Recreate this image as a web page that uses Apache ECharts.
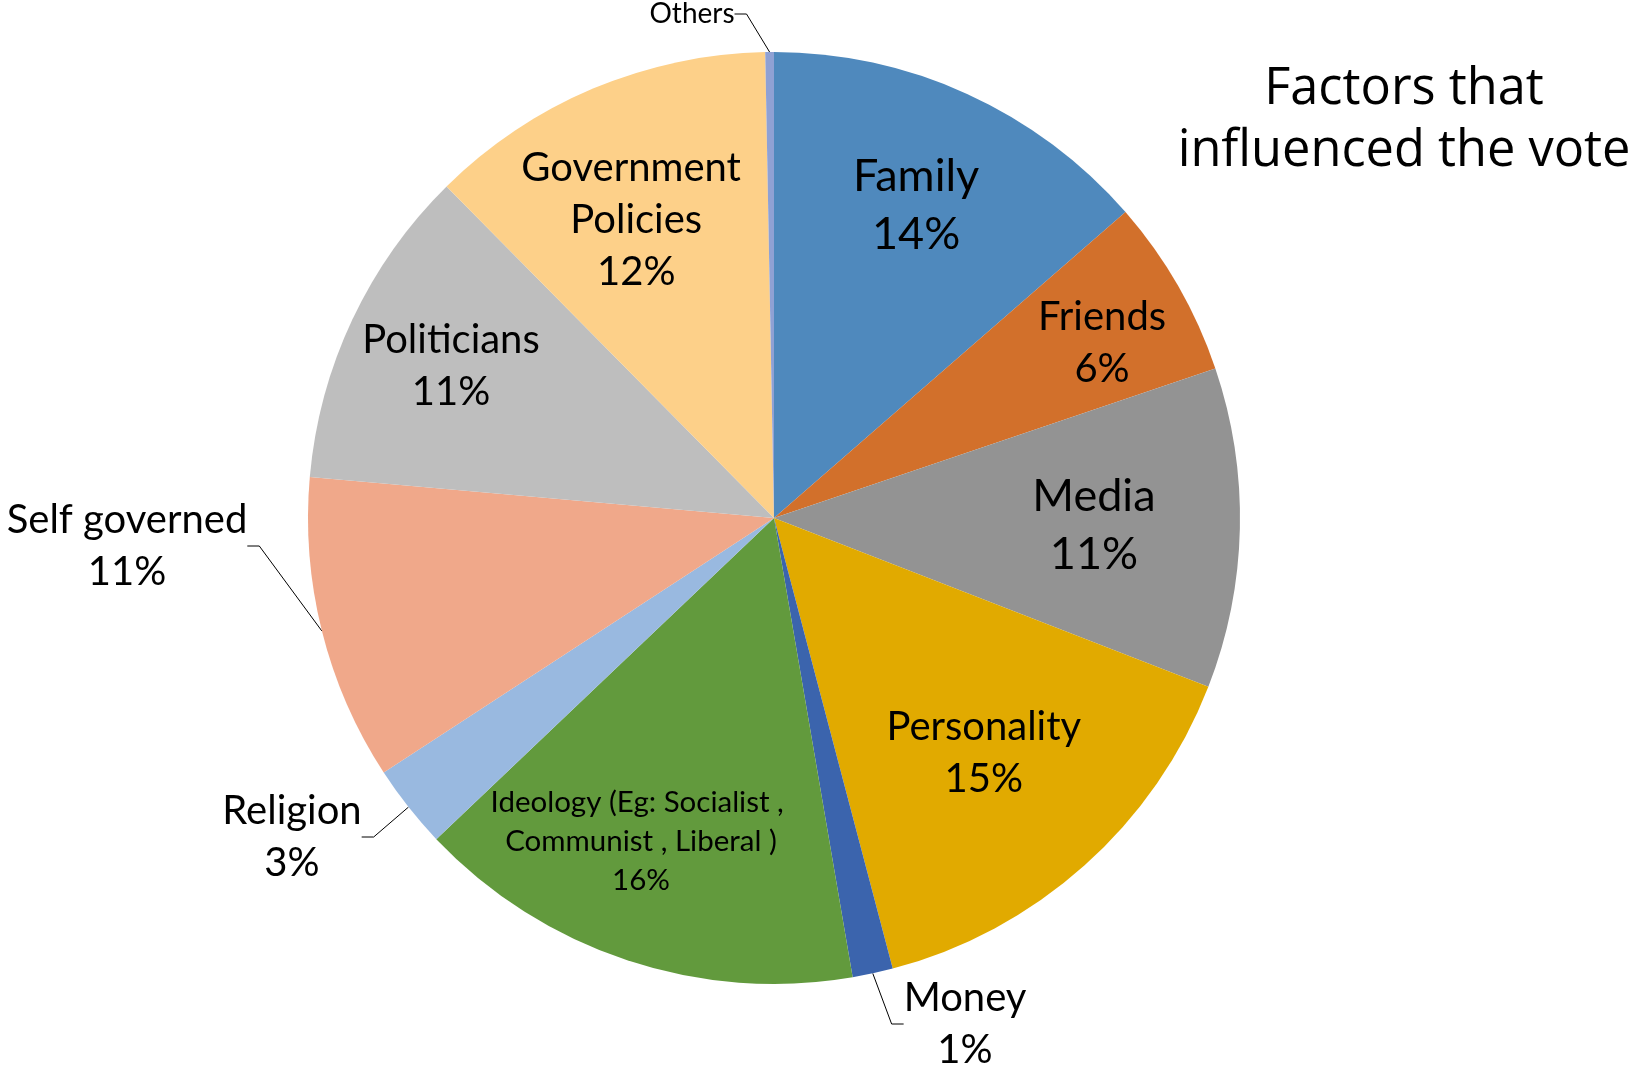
<!DOCTYPE html>
<html>
<head>
<meta charset="utf-8">
<title>Factors that influenced the vote</title>
<script src="https://cdn.jsdelivr.net/npm/echarts@6/dist/echarts.min.js"></script>
<style>
  html, body { margin: 0; padding: 0; background: #fff; }
  #chart { width: 1633px; height: 1069px; }
</style>
</head>
<body>
<div id="chart"></div>
<script>
// slices, clockwise from 12 o'clock
var categories = ['Family', 'Friends', 'Media', 'Personality', 'Money',
    'Ideology (Eg: Socialist , Communist , Liberal )', 'Religion', 'Self governed',
    'Politicians', 'Government Policies', 'Others'];
var shares = [13.6, 6.2, 11.1, 15.0, 1.4, 15.6, 2.9, 10.6, 11.2, 12.1, 0.3];

var colors = ['#4f89bd', '#d2702b', '#939393', '#e1aa00', '#3b64ad',
    '#629a3d', '#99b9e0', '#f0a88a', '#bebebe', '#fdd089', '#8fa1d4'];

var pieCenter = [774, 518];
var pieRadius = 466;
var labelFont = 'Lato';

// how far out (fraction of radius) each inside label sits
var labelDepth = {
    'Family': 0.73,
    'Friends': 0.80,
    'Media': 0.68,
    'Personality': 0.67,
    'Ideology (Eg: Socialist , Communist , Liberal )': 0.75,
    'Politicians': 0.76,
    'Government Policies': 0.71
};
// small shifts where excel didn't centre the label on the slice
var labelNudge = {
    'Friends': [2, 12],
    'Ideology (Eg: Socialist , Communist , Liberal )': [-22, -11],
    'Government Policies': [-8, 10]
};

// outside labels (block centre, px)
var outsideLabelPos = {
    'Self governed': [127, 546],
    'Religion': [292, 837],
    'Money': [965, 1024],
    'Others': [692, 14]
};

function labelText(p) {
    if (p.name === 'Others') return p.name;
    return p.name + '\n' + Math.round(p.percent) + '%';
}

function itemLabel(name, show) {
    var lbl = { show: show };
    if (name.indexOf('Ideology') === 0) {
        lbl.fontSize = 29.5;
        lbl.lineHeight = 39;
        lbl.width = 330;
        lbl.overflow = 'break';
    }
    if (name === 'Government Policies') {
        lbl.width = 250;
        lbl.overflow = 'break';
    }
    if (name === 'Family' || name === 'Media') {
        lbl.fontSize = 45;
        lbl.lineHeight = 58;
    }
    if (name === 'Others') {
        lbl.fontSize = 28;
        lbl.lineHeight = 34;
    }
    return lbl;
}

// transparent ring whose mid radius puts the labels at the wanted depth
function depthRing(depth) {
    var inner = Math.round(pieRadius * (2 * depth - 1));
    return {
        type: 'pie',
        silent: true,
        z: 3,
        center: pieCenter,
        radius: [inner, pieRadius],
        startAngle: 90,
        clockwise: true,
        animation: false,
        avoidLabelOverlap: false,
        itemStyle: { color: 'rgba(0,0,0,0)', borderWidth: 0 },
        emphasis: { disabled: true },
        label: {
            show: false,
            position: 'inside',
            formatter: labelText,
            color: '#000',
            fontFamily: labelFont,
            fontSize: 40,
            lineHeight: 52
        },
        labelLine: { show: false },
        labelLayout: function (p) {
            var n = labelNudge[categories[p.dataIndex]];
            return n ? { dx: n[0], dy: n[1] } : {};
        },
        data: categories.map(function (name, i) {
            return {
                name: name,
                value: shares[i],
                label: itemLabel(name, labelDepth[name] === depth)
            };
        })
    };
}

var depths = [];
Object.keys(labelDepth).forEach(function (k) {
    if (depths.indexOf(labelDepth[k]) < 0) depths.push(labelDepth[k]);
});

var mainPie = {
    type: 'pie',
    center: pieCenter,
    radius: pieRadius,
    startAngle: 90,
    clockwise: true,
    animation: false,
    itemStyle: { borderWidth: 0 },
    emphasis: { disabled: true },
    label: {
        position: 'outside',
        formatter: labelText,
        color: '#000',
        fontFamily: labelFont,
        fontSize: 40,
        lineHeight: 52
    },
    labelLine: {
        length: 20,
        length2: 12,
        lineStyle: { color: '#000', width: 1 }
    },
    labelLayout: function (p) {
        var pos = outsideLabelPos[categories[p.dataIndex]];
        if (!pos) return {};
        return { x: pos[0], y: pos[1], align: 'center', verticalAlign: 'middle' };
    },
    data: categories.map(function (name, i) {
        var outside = !!outsideLabelPos[name];
        return {
            name: name,
            value: shares[i],
            itemStyle: { color: colors[i] },
            label: itemLabel(name, outside),
            labelLine: { show: outside }
        };
    })
};

var chart = echarts.init(document.getElementById('chart'));
chart.setOption({
    backgroundColor: '#fff',
    title: {
        text: 'Factors that\ninfluenced the vote',
        left: 1404,
        top: 59,
        padding: 0,
        textAlign: 'center',
        textStyle: {
            fontFamily: 'Open Sans',
            fontSize: 50.5,
            fontWeight: 'normal',
            color: '#000',
            lineHeight: 62
        }
    },
    series: [mainPie].concat(depths.map(depthRing))
});
</script>
</body>
</html>
